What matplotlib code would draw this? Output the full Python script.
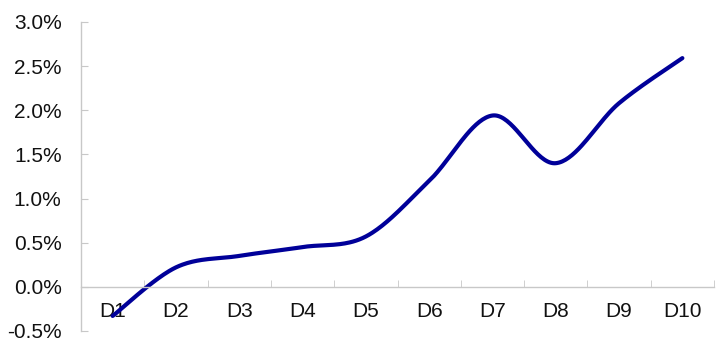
import numpy as np
import matplotlib.pyplot as plt
from matplotlib.ticker import FuncFormatter, MultipleLocator

plt.rcParams['font.family'] = ['Liberation Sans', 'DejaVu Sans']

categories = ['D1', 'D2', 'D3', 'D4', 'D5', 'D6', 'D7', 'D8', 'D9', 'D10']
values = [-0.33, 0.22, 0.35, 0.45, 0.57, 1.20, 1.94, 1.40, 2.08, 2.59]  # percent


def smooth(xs, ys, n=40):
    # excel-like smoothed line (catmull-rom via bezier segments)
    px = np.concatenate([[xs[0]], xs, [xs[-1]]])
    py = np.concatenate([[ys[0]], ys, [ys[-1]]])
    outx, outy = [], []
    t = np.linspace(0, 1, n)
    for i in range(1, len(px) - 2):
        p0 = np.array([px[i], py[i]])
        p3 = np.array([px[i + 1], py[i + 1]])
        p1 = p0 + (np.array([px[i + 1], py[i + 1]]) - np.array([px[i - 1], py[i - 1]])) / 6
        p2 = p3 - (np.array([px[i + 2], py[i + 2]]) - np.array([px[i], py[i]])) / 6
        b = (np.outer((1 - t) ** 3, p0) + np.outer(3 * (1 - t) ** 2 * t, p1)
             + np.outer(3 * (1 - t) * t ** 2, p2) + np.outer(t ** 3, p3))
        outx.extend(b[:, 0])
        outy.extend(b[:, 1])
    return np.array(outx), np.array(outy)


x = np.arange(1, len(categories) + 1)
sx, sy = smooth(x.astype(float), np.array(values))

fig = plt.figure(figsize=(7.2, 3.48), dpi=100)
ax = fig.add_axes([0.1125, 0.049, 0.8792, 0.888])
ax.plot(sx, sy, color='#000099', lw=3.0, solid_capstyle='round')

ax.set_xlim(0.5, 10.5)
ax.set_ylim(-0.5, 3.0)
ax.yaxis.set_major_locator(MultipleLocator(0.5))
ax.yaxis.set_major_formatter(FuncFormatter(lambda v, p: f'{v:.1f}%'))

ax.set_xticks(x)
ax.set_xticklabels(categories)
ax.set_xticks(np.arange(0.5, 11, 1), minor=True)

for s in ['top', 'right']:
    ax.spines[s].set_visible(False)
ax.spines['bottom'].set_position(('data', 0))
for s in ['left', 'bottom']:
    ax.spines[s].set_color('#c8c8c8')
    ax.spines[s].set_linewidth(1.0)

ax.tick_params(axis='y', direction='in', length=5, color='#c8c8c8', labelsize=15, pad=14, labelcolor='#111111')
ax.tick_params(axis='x', which='major', length=0, labelsize=15, pad=11, labelcolor='#111111')
ax.tick_params(axis='x', which='minor', direction='in', length=5, color='#c8c8c8')

fig.savefig('out.png', dpi=100)
